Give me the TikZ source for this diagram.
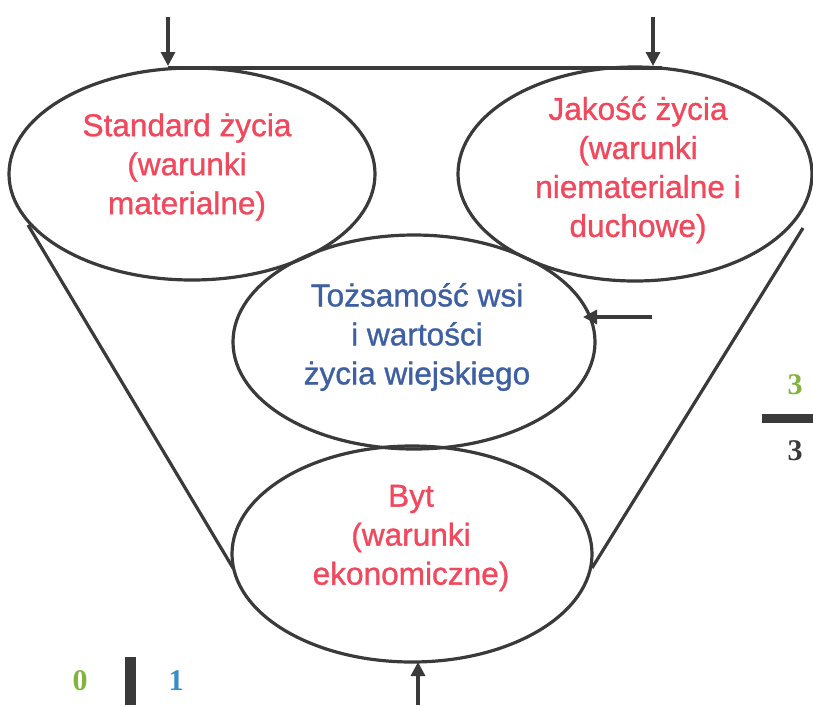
\documentclass[tikz,border=0pt]{standalone}
\usepackage{fontspec}
\setmainfont{Liberation Sans}[FakeBold=1.2]
\newfontfamily\labfont{Liberation Sans}[FakeBold=1.0]
\newfontfamily\digitfont{Liberation Serif}
\usetikzlibrary{shapes.geometric,arrows.meta}
\definecolor{tred}{RGB}{240,72,92}
\definecolor{tblue}{RGB}{62,96,162}
\definecolor{tgreen}{RGB}{128,180,60}
\definecolor{lblue}{RGB}{58,140,200}
\definecolor{dark}{RGB}{58,58,58}
\begin{document}
\begin{tikzpicture}[x=1pt,y=-1pt,
  ell/.style={draw=dark,line width=3.2pt,ellipse,inner sep=0pt},
  lab/.style={align=center,font=\labfont\fontsize{31.6}{39}\selectfont,inner sep=0pt},
  conn/.style={draw=dark,line width=3.2pt},
  arr/.style={draw=dark,line width=3.2pt,-{Triangle[length=14pt,width=14pt]}},
  dig/.style={font=\digitfont\bfseries\fontsize{30}{30}\selectfont,inner sep=0pt}]
\useasboundingbox[fill=white] (0,0) rectangle (813,705);
% ellipses
\node[ell,minimum width=366pt,minimum height=212pt] (L) at (192,174) {};
\node[ell,minimum width=354pt,minimum height=214pt] (R) at (635,174) {};
\node[ell,minimum width=362pt,minimum height=214pt] (M) at (414,342) {};
\node[ell,minimum width=360pt,minimum height=216pt] (B) at (412,554) {};
% connector points
\coordinate (tl) at (168,68);
\coordinate (tr) at (662,68);
\coordinate (ls) at (28,225);
\coordinate (le) at (233,568);
\coordinate (rs) at (803,228);
\coordinate (re) at (592,568);
\draw[conn] (tl) -- (tr);
\draw[conn] (ls) -- (le);
\draw[conn] (rs) -- (re);
% arrows
\coordinate (a1) at (168,17);
\coordinate (a1e) at (168,66);
\coordinate (a2) at (653,17);
\coordinate (a2e) at (653,66);
\coordinate (a3) at (652,317);
\coordinate (a3e) at (583,317);
\coordinate (a4) at (418,705);
\coordinate (a4e) at (418,662);
\draw[arr] (a1) -- (a1e);
\draw[arr] (a2) -- (a2e);
\draw[arr] (a3) -- (a3e);
\draw[arr] (a4) -- (a4e);
% labels
\node[lab,text=tred] (tL) at (187,167) {Standard życia\\(warunki\\materialne)};
\node[lab,text=tred] (tR) at (638,170) {Jakość życia\\(warunki\\niematerialne i\\duchowe)};
\node[lab,text=tblue] (tM) at (417,337) {Tożsamość wsi\\i wartości\\ życia wiejskiego};
\node[lab,text=tred] (tB) at (411,538) {Byt\\(warunki\\ekonomiczne)};
% side marks
\node[dig,text=tgreen] (g3) at (795,385) {3};
\fill[dark] (762,414) rectangle (813,423);
\node[dig,text=dark] (k3) at (795,451) {3};
\node[dig,text=tgreen] (g0) at (80,681) {0};
\fill[dark] (125,657) rectangle (136,705);
\node[dig,text=lblue] (b1) at (176,681) {1};
\end{tikzpicture}
\end{document}
